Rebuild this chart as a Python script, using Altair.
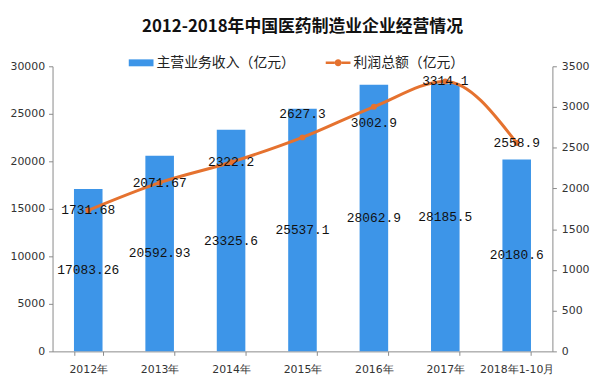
import altair as alt
import pandas as pd

years = ["2012年", "2013年", "2014年", "2015年", "2016年", "2017年", "2018年1-10月"]
income = [17083.26, 20592.93, 23325.6, 25537.1, 28062.9, 28185.5, 20180.6]
profit = [1731.68, 2071.67, 2322.2, 2627.3, 3002.9, 3314.1, 2558.9]
income_labels = ["17083.26", "20592.93", "23325.6", "25537.1", "28062.9", "28185.5", "20180.6"]
profit_labels = ["1731.68", "2071.67", "2322.2", "2627.3", "3002.9", "3314.1", "2558.9"]
left_ticks = [0, 5000, 10000, 15000, 20000, 25000, 30000]
right_ticks = [0, 500, 1000, 1500, 2000, 2500, 3000, 3500]

S1 = "主营业务收入（亿元）"
S2 = "利润总额（亿元）"
BLUE = "#3d95e8"
ORANGE = "#e5722f"
AXIS = "#8a8a8a"
CJK = "Noto Sans CJK SC"
MONO = "Liberation Mono"

df = pd.DataFrame({"year": years, "income": income, "profit": profit,
                   "il": income_labels, "pl": profit_labels})

xscale = alt.Scale(paddingInner=0.6, paddingOuter=0.3)
xaxis = alt.Axis(title=None, labelAngle=0, tickBand="extent", tickSize=4,
                 labelPadding=8, grid=False)
X = alt.X("year:N", sort=years, scale=xscale, axis=xaxis)

lscale = alt.Scale(domain=[0, 30000], nice=False, zero=True)
rscale = alt.Scale(domain=[0, 3500], nice=False, zero=True)
laxis = alt.Axis(orient="left", values=left_ticks, format="d", title=None,
                 grid=False, tickSize=4, labelPadding=4)
raxis = alt.Axis(orient="right", values=right_ticks, format="d", title=None,
                 grid=False, tickSize=4, labelPadding=5)

rect_path = "M-1,-0.28H1V0.28H-1Z"
linedot_path = ("M-1,-0.1H-0.28V0.1H-1Z M0.28,-0.1H1V0.1H0.28Z "
                "M0.28,0A0.28,0.28,0,1,1,-0.28,0A0.28,0.28,0,1,1,0.28,0Z")

base = alt.Chart(df)

bars = base.transform_calculate(s1=f"'{S1}'").mark_bar(opacity=1).encode(
    x=X,
    y=alt.Y("income:Q", scale=lscale, axis=laxis),
    color=alt.Color("s1:N", scale=alt.Scale(domain=[S1], range=[BLUE]),
                    legend=alt.Legend(orient="none", legendX=77, legendY=-16,
                                      title=None, symbolType=rect_path,
                                      symbolSize=625, symbolStrokeWidth=0,
                                      symbolOpacity=1, direction="horizontal")),
)

bar_text = base.transform_calculate(mid="datum.income / 2").mark_text(
    font=MONO, fontSize=13, color="#111").encode(
    x=X, y=alt.Y("mid:Q", scale=lscale, axis=laxis), text="il:N")

left = alt.layer(bars, bar_text)

line = base.mark_line(color=ORANGE, strokeWidth=3, interpolate="monotone").encode(
    x=X,
    y=alt.Y("profit:Q", scale=rscale, axis=raxis),
)

points = base.transform_calculate(s2=f"'{S2}'").mark_point(
    filled=True, size=36, opacity=1).encode(
    x=X, y=alt.Y("profit:Q", scale=rscale, axis=raxis),
    fill=alt.Fill("s2:N", scale=alt.Scale(domain=[S2], range=[ORANGE]),
                  legend=alt.Legend(orient="none", legendX=276, legendY=-16,
                                    title=None, symbolType=linedot_path,
                                    symbolSize=625, symbolStrokeWidth=0,
                                    symbolOpacity=1, direction="horizontal")),
)

def plabels(filt, dy):
    return base.transform_filter(filt).mark_text(
        font=MONO, fontSize=13, color="#111", dy=dy).encode(
        x=X, y=alt.Y("profit:Q", scale=rscale, axis=raxis), text="pl:N")

pl_mid = plabels("datum.year != '2015年' && datum.year != '2016年'", 0)
pl_up = plabels("datum.year == '2015年'", -24)
pl_down = plabels("datum.year == '2016年'", 16)

right = alt.layer(line, points, pl_mid, pl_up, pl_down)

chart = alt.layer(left, right).resolve_scale(y="independent").properties(
    width=505, height=288,
    autosize=alt.AutoSizeParams(type="none"),
    padding={"left": 45, "top": 57, "right": 40, "bottom": 24},
    title=alt.Title("2012-2018年中国医药制造业企业经营情况", font=CJK, fontSize=17,
                    fontWeight="bold", color="#111", anchor="middle", offset=15),
).configure_view(stroke=None).configure_axis(
    domainColor=AXIS, tickColor=AXIS, labelColor="#333", labelFont="DejaVu Sans",
    labelFontSize=11,
).configure_legend(
    labelFont=CJK, labelFontSize=14, labelColor="#222", labelOffset=3,
    columnPadding=27, padding=0,
)

chart.save("out.html", embed_options={"renderer": "svg", "actions": False})
